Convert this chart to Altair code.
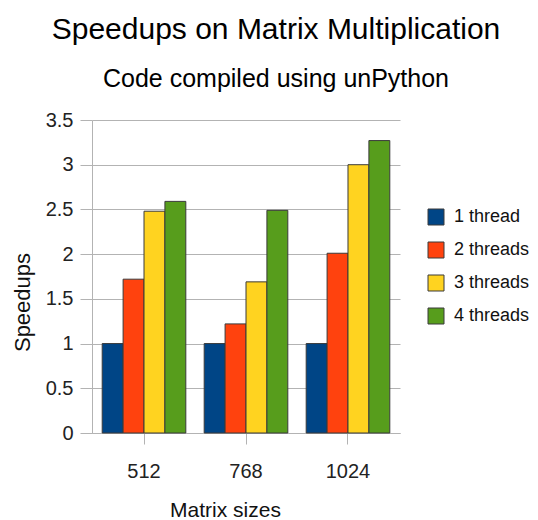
import altair as alt
import pandas as pd

sizes = ["512", "768", "1024"]
series = ["1 thread", "2 threads", "3 threads", "4 threads"]
speedups = {
    "1 thread": [1.0, 1.0, 1.0],
    "2 threads": [1.72, 1.22, 2.01],
    "3 threads": [2.48, 1.69, 3.0],
    "4 threads": [2.59, 2.49, 3.27],
}
colors = ["#004586", "#ff420e", "#ffd320", "#579d1c"]

rows = []
for s in series:
    for sz, v in zip(sizes, speedups[s]):
        rows.append({"size": sz, "series": s, "speedup": v})
df = pd.DataFrame(rows)

FONT = "Liberation Sans"

chart = alt.Chart(df).mark_bar(stroke="#3a3a3a", strokeWidth=1).encode(
    x=alt.X("size:N", sort=sizes,
            scale=alt.Scale(paddingInner=0.18, paddingOuter=0.1),
            axis=alt.Axis(title="Matrix sizes", labelAngle=0, tickSize=11,
                          labelPadding=33, labelBaseline="alphabetic",
                          labelFontSize=20, titleFontSize=21,
                          titleFontWeight="normal", titleX=133, titleY=83,
                          titleBaseline="alphabetic", titleAlign="center",
                          domainColor="#b3b3b3", tickColor="#b3b3b3",
                          labelColor="#222", titleColor="#111")),
    xOffset=alt.XOffset("series:N", sort=series,
                        scale=alt.Scale(paddingInner=0, paddingOuter=0)),
    y=alt.Y("speedup:Q",
            scale=alt.Scale(domain=[0, 3.5], nice=False),
            axis=alt.Axis(title="Speedups", values=[0, 0.5, 1, 1.5, 2, 2.5, 3, 3.5],
                          format="~g", tickSize=12, labelPadding=7,
                          labelFontSize=20, titleFontSize=22,
                          titleFontWeight="normal", titleAngle=270,
                          titleX=-63, titleY=182, titleBaseline="alphabetic",
                          titleAlign="center",
                          gridColor="#b3b3b3", domainColor="#b3b3b3",
                          tickColor="#b3b3b3", labelColor="#222",
                          titleColor="#111")),
    fill=alt.Fill("series:N", sort=series,
                  scale=alt.Scale(domain=series, range=colors),
                  legend=alt.Legend(title=None, orient="none", legendX=335,
                                    legendY=88, symbolType="square",
                                    symbolSize=256, symbolStrokeColor="#3a3a3a",
                                    symbolStrokeWidth=1, labelFontSize=18,
                                    labelOffset=9, rowPadding=13,
                                    labelColor="#111")),
).properties(
    width=308,
    height=313,
    autosize=alt.AutoSizeParams(type="none"),
    padding={"left": 84, "top": 112, "right": 130, "bottom": 95},
    title=alt.TitleParams(
        text="Speedups on Matrix Multiplication",
        subtitle="Code compiled using unPython",
        anchor="middle", dx=30, offset=18, subtitlePadding=22,
        fontSize=30, subtitleFontSize=25, fontWeight="normal",
        font=FONT, subtitleFont=FONT, color="#000", subtitleColor="#000",
    ),
).configure(font=FONT).configure_view(stroke=None).configure_axis(
    labelFont=FONT, titleFont=FONT, domainWidth=1, gridWidth=1
).configure_legend(labelFont=FONT)

chart.save("out.html", embed_options={"renderer": "svg", "actions": False})
